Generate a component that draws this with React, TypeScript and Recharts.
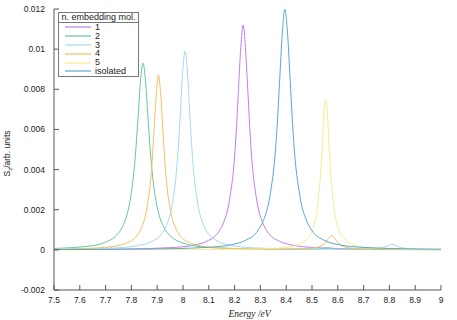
import { LineChart, Line, XAxis, YAxis, Legend } from "recharts"

const xTicks = [7.5, 7.6, 7.7, 7.8, 7.9, 8, 8.1, 8.2, 8.3, 8.4, 8.5, 8.6, 8.7, 8.8, 8.9, 9]
const yTicks = [-0.002, 0, 0.002, 0.004, 0.006, 0.008, 0.01, 0.012]

const names = ["1", "2", "3", "4", "5", "isolated"]
const colors = ["#c27cf0", "#62c7a0", "#a8d8f2", "#f2bf5c", "#f8ec8c", "#58a8d6"]

// 1 embedding mol.
const energy1 = [7.5, 7.766, 7.953, 8.046, 8.093, 8.14, 8.158, 8.177, 8.186, 8.196, 8.205, 8.214, 8.224, 8.233, 8.242, 8.252, 8.261, 8.27, 8.28, 8.289, 8.308, 8.326, 8.373, 8.42, 8.513, 8.7, 9]
const sz1 = [0.000016, 0.00004, 0.000111, 0.000246, 0.00043, 0.00093, 0.00138, 0.00224, 0.00297, 0.00403, 0.0056, 0.00775, 0.01008, 0.0112, 0.01008, 0.00775, 0.0056, 0.00403, 0.00297, 0.00224, 0.00138, 0.00093, 0.00043, 0.000246, 0.000111, 0.00004, 0.000017]

// 2
const energy2 = [7.5, 7.645, 7.695, 7.745, 7.765, 7.785, 7.795, 7.805, 7.815, 7.825, 7.835, 7.845, 7.855, 7.865, 7.875, 7.885, 7.895, 7.905, 7.925, 7.945, 7.995, 8.045, 8.145, 8.345, 8.5, 8.54, 8.56, 8.58, 8.62, 9]
const sz2 = [0.00007, 0.0002, 0.00036, 0.00077, 0.00114, 0.00186, 0.00246, 0.00335, 0.00465, 0.00644, 0.00837, 0.0093, 0.00837, 0.00644, 0.00465, 0.00335, 0.00246, 0.00186, 0.00114, 0.00077, 0.00036, 0.0002, 0.000092, 0.000033, 0.00003, 0.00007, 0.0001, 0.00007, 0.00002, 0.000007]

// 3
const energy3 = [7.5, 7.558, 7.738, 7.828, 7.873, 7.918, 7.936, 7.954, 7.963, 7.972, 7.981, 7.99, 7.999, 8.008, 8.017, 8.026, 8.035, 8.044, 8.053, 8.062, 8.08, 8.098, 8.143, 8.188, 8.278, 8.458, 8.7, 8.76, 8.785, 8.8, 8.809, 8.818, 8.833, 8.86, 8.92, 9]
const sz3 = [0.000028, 0.000036, 0.000098, 0.00022, 0.00038, 0.00082, 0.00122, 0.00198, 0.00262, 0.00356, 0.00495, 0.00685, 0.00891, 0.0099, 0.00891, 0.00685, 0.00495, 0.00356, 0.00262, 0.00198, 0.00122, 0.00082, 0.00038, 0.00022, 0.000098, 0.000036, 0.00003, 0.00008, 0.00016, 0.00025, 0.00028, 0.00025, 0.00016, 0.00008, 0.00003, 0.00001]

// 4
const energy4 = [7.5, 7.655, 7.738, 7.78, 7.822, 7.838, 7.855, 7.863, 7.872, 7.88, 7.888, 7.897, 7.905, 7.913, 7.922, 7.93, 7.938, 7.947, 7.955, 7.972, 7.988, 8.03, 8.072, 8.155, 8.325, 8.45, 8.51, 8.535, 8.551, 8.56, 8.568, 8.576, 8.584, 8.592, 8.601, 8.617, 8.642, 8.7, 9]
const sz4 = [0.000033, 0.000086, 0.00019, 0.000335, 0.00072, 0.00107, 0.00174, 0.00231, 0.00313, 0.00435, 0.00602, 0.00783, 0.0087, 0.00783, 0.00602, 0.00435, 0.00313, 0.00231, 0.00174, 0.00107, 0.00072, 0.000335, 0.00019, 0.000086, 0.000031, 0.00005, 0.0001, 0.0002, 0.00035, 0.0005, 0.00063, 0.0007, 0.00063, 0.0005, 0.00035, 0.0002, 0.0001, 0.00004, 0.00001]

// 5
const energy5 = [7.5, 8.22, 8.353, 8.42, 8.453, 8.486, 8.5, 8.513, 8.52, 8.526, 8.533, 8.54, 8.546, 8.553, 8.56, 8.566, 8.573, 8.58, 8.586, 8.593, 8.606, 8.62, 8.653, 8.686, 8.753, 8.886, 9]
const sz5 = [0.000003, 0.000027, 0.000074, 0.000165, 0.00029, 0.00062, 0.00092, 0.0015, 0.00199, 0.0027, 0.00375, 0.00519, 0.00675, 0.0075, 0.00675, 0.00519, 0.00375, 0.0027, 0.00199, 0.0015, 0.00092, 0.00062, 0.00029, 0.000165, 0.000074, 0.000027, 0.000015]

// isolated
const energy6 = [7.5, 7.878, 8.085, 8.188, 8.24, 8.292, 8.312, 8.333, 8.343, 8.354, 8.364, 8.374, 8.385, 8.395, 8.405, 8.416, 8.426, 8.436, 8.447, 8.457, 8.478, 8.498, 8.55, 8.602, 8.705, 8.912, 9]
const sz6 = [0.000014, 0.000043, 0.000119, 0.00026, 0.00046, 0.00099, 0.00148, 0.0024, 0.00318, 0.00432, 0.006, 0.0083, 0.0108, 0.012, 0.0108, 0.0083, 0.006, 0.00432, 0.00318, 0.0024, 0.00148, 0.00099, 0.00046, 0.00026, 0.000119, 0.000043, 0.000035]

const energies = [energy1, energy2, energy3, energy4, energy5, energy6]
const values = [sz1, sz2, sz3, sz4, sz5, sz6]

const series = names.map((name, k) => ({
  name,
  color: colors[k],
  data: energies[k].map((x, i) => ({ x, y: values[k][i] })),
}))

const AXIS = "#555"
const TXT = "#222"
const FONT = "'Liberation Sans', Arial, sans-serif"

function BottomTick(props: any) {
  const { x, y, payload } = props
  return (
    <g>
      <line x1={x} x2={x} y1={y} y2={y - 5} stroke={AXIS} />
      <text x={x} y={y + 13} textAnchor="middle" fontSize={8.5} fontFamily={FONT} fill={TXT}>
        {payload.value}
      </text>
    </g>
  )
}

function TopTick(props: any) {
  const { x, y } = props
  return <line x1={x} x2={x} y1={y} y2={y + 5} stroke={AXIS} />
}

function LeftTick(props: any) {
  const { x, y, payload } = props
  return (
    <g>
      <line x1={x} x2={x + 5} y1={y} y2={y} stroke={AXIS} />
      <text x={x - 9} y={y + 3} textAnchor="end" fontSize={8.5} fontFamily={FONT} fill={TXT}>
        {payload.value}
      </text>
    </g>
  )
}

function RightTick(props: any) {
  const { x, y } = props
  return <line x1={x} x2={x - 5} y1={y} y2={y} stroke={AXIS} />
}

function XLabel(props: any) {
  const vb = props.viewBox
  return (
    <text x={vb.x + vb.width / 2 + 2} y={vb.y + 27} textAnchor="middle" fontSize={9.5} fontStyle="italic" fontFamily="'Liberation Serif', serif" fill={TXT}>
      Energy /eV
    </text>
  )
}

function YLabel(props: any) {
  const vb = props.viewBox
  const cx = 10
  const cy = vb.y + vb.height / 2 + 4
  return (
    <text x={cx} y={cy} transform={`rotate(-90, ${cx}, ${cy})`} textAnchor="middle" fontSize={8.5} fontFamily={FONT} fill={TXT}>
      S<tspan dy={2} fontSize={6}>z</tspan>
      <tspan dy={-2}>/arb. units</tspan>
    </text>
  )
}

function LegendBox(props: any) {
  const items = props.payload || []
  return (
    <div style={{ width: 79, border: "1px solid #777", background: "#fff", fontFamily: FONT, fontSize: 9, color: TXT, lineHeight: "8.8px" }}>
      <div style={{ borderBottom: "1px solid #777", textAlign: "center", height: 9, whiteSpace: "nowrap" }}>n. embedding mol.</div>
      {items.map((it: any) => (
        <div key={it.value} style={{ display: "flex", alignItems: "center", height: 8.8 }}>
          <svg width={36} height={8} style={{ display: "block" }}>
            <line x1={6} x2={32} y1={4} y2={4} stroke={it.color} strokeWidth={1.2} />
          </svg>
          <span>{it.value}</span>
        </div>
      ))}
    </div>
  )
}

export default function App() {
  return (
    <div style={{ position: "absolute", left: 0, top: 0, background: "#fff" }}>
      <LineChart width={457} height={320} margin={{ top: 9, right: 16, bottom: 0, left: 0 }}>
        <XAxis xAxisId="b" type="number" dataKey="x" domain={[7.5, 9]} ticks={xTicks} allowDataOverflow height={30}
          stroke={AXIS} tickSize={0} tickMargin={0} tickLine={false} tick={<BottomTick />} label={<XLabel />} />
        <XAxis xAxisId="t" orientation="top" type="number" dataKey="x" domain={[7.5, 9]} ticks={xTicks} allowDataOverflow height={0}
          stroke={AXIS} tickSize={0} tickMargin={0} tickLine={false} tick={<TopTick />} />
        <YAxis yAxisId="l" type="number" domain={[-0.002, 0.012]} ticks={yTicks} allowDataOverflow width={54}
          stroke={AXIS} tickSize={0} tickMargin={0} tickLine={false} tick={<LeftTick />} label={<YLabel />} />
        <YAxis yAxisId="r" orientation="right" type="number" domain={[-0.002, 0.012]} ticks={yTicks} allowDataOverflow width={0}
          stroke={AXIS} tickSize={0} tickMargin={0} tickLine={false} tick={<RightTick />} />
        <Legend layout="vertical" align="center" verticalAlign="middle" content={<LegendBox />}
          wrapperStyle={{ left: 58, top: 12, width: 81 }} />
        {series.map((s) => (
          <Line key={s.name} xAxisId="b" yAxisId="l" data={s.data} dataKey="y" name={s.name} type="monotone"
            stroke={s.color} strokeWidth={1} dot={false} isAnimationActive={false} />
        ))}
      </LineChart>
    </div>
  )
}
